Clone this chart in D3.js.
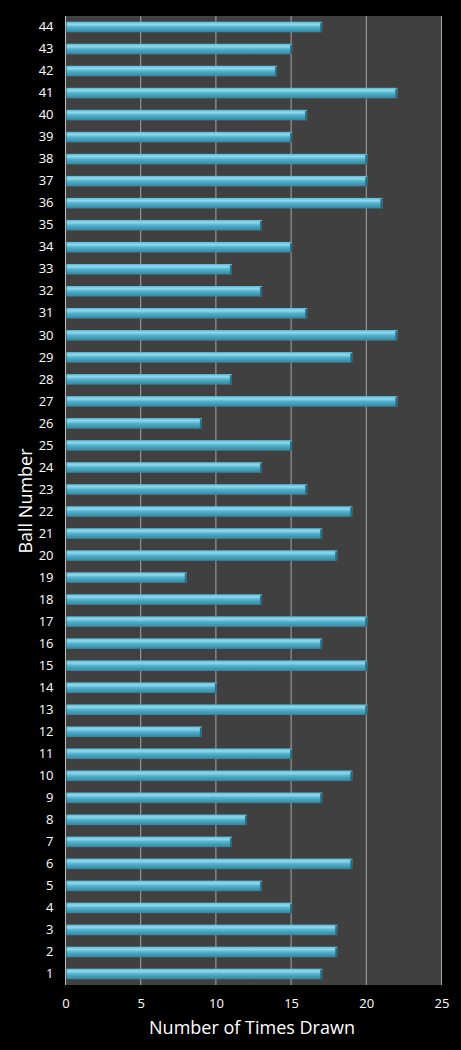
<!DOCTYPE html>
<html><head><meta charset="utf-8">
<script src="https://cdn.jsdelivr.net/npm/d3@7"></script>
<style>body{margin:0;background:#000;}svg{display:block;}</style>
</head><body>
<script>
const balls = d3.range(1, 45).map(String);
const timesDrawn = [17,18,18,15,13,19,11,12,17,19,15,9,20,10,20,17,20,13,8,18,17,19,16,13,15,9,22,11,19,22,16,13,11,15,13,21,20,20,15,16,22,14,15,17];
const xTicks = [0,5,10,15,20,25];

const W = 461, H = 1050;
const m = {left: 65.5, right: 20, top: 16, bottom: 65};
const svg = d3.select("body").append("svg").attr("width", W).attr("height", H);
svg.append("rect").attr("width", W).attr("height", H).attr("fill", "#000");

const x = d3.scaleLinear().domain([0, 25]).range([m.left, 441.5]);
const y = d3.scaleBand().domain(balls.slice().reverse()).range([m.top, 985]).paddingInner(0.52).paddingOuter(0.26);

const defs = svg.append("defs");
const g = defs.append("linearGradient").attr("id", "barg").attr("x1", 0).attr("y1", 0).attr("x2", 0).attr("y2", 1);
g.append("stop").attr("offset", "0%").attr("stop-color", "#5fb9d2");
g.append("stop").attr("offset", "25%").attr("stop-color", "#92d8ec");
g.append("stop").attr("offset", "50%").attr("stop-color", "#52b2cd");
g.append("stop").attr("offset", "100%").attr("stop-color", "#2f86a2");

svg.append("rect").attr("x", x(0)).attr("y", m.top).attr("width", x(25) - x(0)).attr("height", 985 - m.top).attr("fill", "#404040");

svg.append("g").selectAll("line").data(xTicks.slice(1)).join("line")
  .attr("x1", d => x(d)).attr("x2", d => x(d)).attr("y1", m.top).attr("y2", 985)
  .attr("stroke", "#a6a6a6").attr("stroke-width", 1);

svg.append("line").attr("x1", x(0)).attr("x2", x(0)).attr("y1", m.top).attr("y2", 985).attr("stroke", "#bfbfbf");

const bars = svg.append("g").selectAll("g").data(balls).join("g");
bars.append("rect")
  .attr("x", x(0) + 1).attr("y", d => y(d))
  .attr("width", (d, i) => x(timesDrawn[i]) - x(0))
  .attr("height", y.bandwidth()).attr("fill", "url(#barg)");
bars.append("rect")
  .attr("x", (d, i) => x(timesDrawn[i]) - 1).attr("y", d => y(d) + 1)
  .attr("width", 2).attr("height", y.bandwidth() - 1).attr("fill", "#1f6f88");

const xa = svg.append("g").attr("transform", "translate(0,985)")
  .call(d3.axisBottom(x).tickValues(xTicks).tickSize(0).tickPadding(14));
xa.select(".domain").remove();
xa.selectAll("text").attr("fill", "#fff").style("font-family", "'Open Sans', sans-serif").style("font-size", "13px");

const ya = svg.append("g").attr("transform", `translate(${m.left},0)`)
  .call(d3.axisLeft(y).tickSize(0).tickPadding(12));
ya.select(".domain").remove();
ya.selectAll("text").attr("fill", "#fff").style("font-family", "'Open Sans', sans-serif").style("font-size", "13px");

svg.append("text").attr("x", 252).attr("y", 1034).attr("text-anchor", "middle")
  .attr("fill", "#fff").style("font-family", "'Open Sans', sans-serif").style("font-size", "18px")
  .text("Number of Times Drawn");
svg.append("text").attr("transform", "translate(32,501) rotate(-90)").attr("text-anchor", "middle")
  .attr("fill", "#fff").style("font-family", "'Open Sans', sans-serif").style("font-size", "18px")
  .text("Ball Number");
</script>
</body></html>
